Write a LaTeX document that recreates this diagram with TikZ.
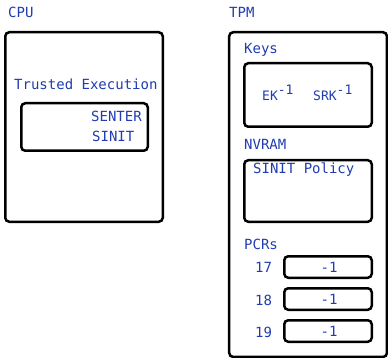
\documentclass[tikz,border=0pt]{standalone}
\usepackage{fontspec}
\setmonofont{DejaVu Sans Mono}
\definecolor{txtblue}{RGB}{32,60,176}
\tikzset{
  box/.style={draw=black, line width=2.5pt, rounded corners=4pt, inner sep=0pt, anchor=center},
  lbl/.style={text=txtblue, font=\ttfamily\fontsize{14}{16}\selectfont, inner sep=0pt, anchor=base west},
  klbl/.style={text=txtblue, font=\ttfamily\fontsize{13}{15}\selectfont, inner sep=0pt, anchor=base west},
  val/.style={text=txtblue, font=\ttfamily\fontsize{14}{16}\selectfont, inner sep=0pt, anchor=base}
}
\begin{document}
\begin{tikzpicture}[x=1pt,y=-1pt]
\useasboundingbox (0,0) rectangle (388,358);
% CPU
\node[lbl] (cpulbl) at (8,18) {CPU};
\node[box, minimum width=157.5pt, minimum height=189.5pt] (cpu) at (84,127) {};
\node[lbl] (te) at (14,90) {Trusted Execution};
\node[box, minimum width=126.5pt, minimum height=47.5pt] (tebox) at (84.5,127) {};
\node[lbl] (senter) at (91,122) {SENTER};
\node[lbl] (sinit) at (92,142) {SINIT};
% TPM
\node[lbl] (tpmlbl) at (229,18) {TPM};
\node[box, minimum width=157.75pt, minimum height=324.75pt] (tpm) at (308.1,194.6) {};
\node[lbl] (keys) at (244,54) {Keys};
\node[box, minimum width=127.5pt, minimum height=63.5pt] (keybox) at (308,95) {};
\node[klbl] (ek) at (262,101) {EK\raisebox{6pt}{-1}};
\node[klbl] (srk) at (313,101) {SRK\raisebox{6pt}{-1}};
\node[lbl] (nvram) at (244,150) {NVRAM};
\node[box, minimum width=127.5pt, minimum height=61.5pt] (nvbox) at (308,191) {};
\node[lbl] (policy) at (253,174) {SINIT Policy};
\node[lbl] (pcrs) at (244,249) {PCRs};
\node[lbl] (n17) at (255,272) {17};
\node[lbl] (n18) at (255,305) {18};
\node[lbl] (n19) at (255,337) {19};
\node[box, minimum width=87.5pt, minimum height=21.5pt] (p17) at (328,267) {};
\node[box, minimum width=87.5pt, minimum height=21.5pt] (p18) at (328,299) {};
\node[box, minimum width=87.5pt, minimum height=21.5pt] (p19) at (328,331) {};
\node[val] (v17) at (329,272) {-1};
\node[val] (v18) at (329,304) {-1};
\node[val] (v19) at (329,336) {-1};
\end{tikzpicture}
\end{document}
